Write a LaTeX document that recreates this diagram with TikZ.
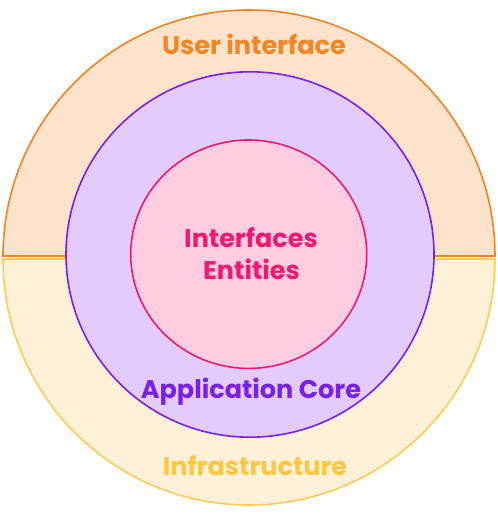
\documentclass[tikz,border=0pt]{standalone}
\usepackage{fontspec}
\setmainfont{Poppins}
\definecolor{uiStroke}{HTML}{F58220}
\definecolor{uiFill}{HTML}{FDE3CC}
\definecolor{uiText}{HTML}{F7841E}
\definecolor{infStroke}{HTML}{FFCB55}
\definecolor{infFill}{HTML}{FFF1D8}
\definecolor{infText}{HTML}{FFC640}
\definecolor{coreStroke}{HTML}{7A1FE6}
\definecolor{coreFill}{HTML}{E3CCFD}
\definecolor{coreText}{HTML}{7A1FE8}
\definecolor{entStroke}{HTML}{EF1A6C}
\definecolor{entFill}{HTML}{FFCCE1}
\definecolor{entText}{HTML}{EF1A6E}
\tikzset{
  ring/.style={line width=1.6pt},
  lbl/.style={anchor=base, inner sep=0pt, font=\fontsize{25.5}{30}\selectfont\bfseries}
}
\begin{document}
\begin{tikzpicture}[x=1pt,y=1pt]
\useasboundingbox (0,0) rectangle (498,515);
% upper half: User interface
\filldraw[ring, draw=uiStroke, fill=uiFill] (3,259) arc[start angle=180, end angle=0, radius=246] -- cycle;
% lower half: Infrastructure
\filldraw[ring, draw=infStroke, fill=infFill] (3,256) arc[start angle=180, end angle=360, radius=246] -- cycle;
% application core
\filldraw[ring, draw=coreStroke, fill=coreFill] (250,260.5) ellipse[x radius=184, y radius=182.7];
% entities
\filldraw[ring, draw=entStroke, fill=entFill] (248.7,260.8) ellipse[x radius=118, y radius=114.2];
\node[lbl, text=uiText] (ui) at (254,460) {User interface};
\node[lbl, text=entText] (intf) at (251,267) {Interfaces};
\node[lbl, text=entText] (ent) at (251.5,235) {Entities};
\node[lbl, text=coreText] (core) at (251,116) {Application Core};
\node[lbl, text=infText] (infra) at (255,39) {Infrastructure};
\end{tikzpicture}
\end{document}
